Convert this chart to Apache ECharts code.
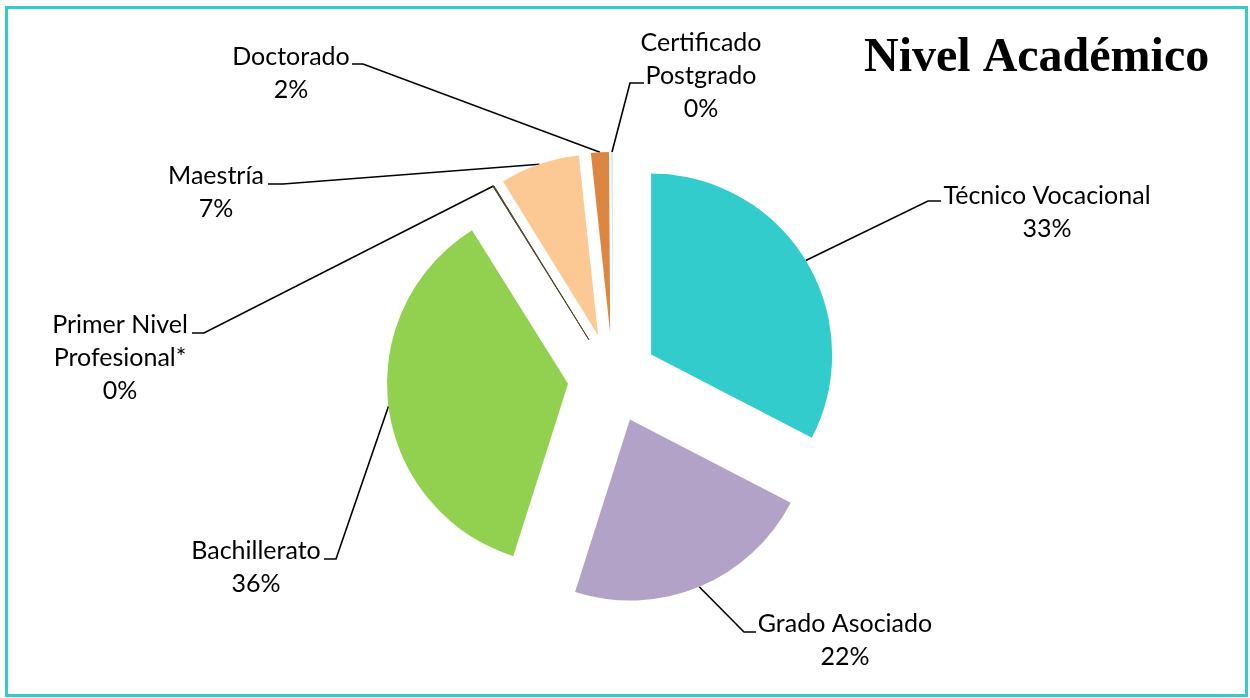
<!DOCTYPE html>
<html><head><meta charset="utf-8">
<script src="https://cdn.jsdelivr.net/npm/echarts@6/dist/echarts.min.js"></script>
<style>html,body{margin:0;padding:0;background:#fff}#c{width:1250px;height:698px}</style>
</head><body><div id="c"></div>
<script>
// ---- data ----
const categories = ['Técnico Vocacional','Grado Asociado','Bachillerato','Primer Nivel Profesional*','Maestría','Doctorado','Certificado Postgrado'];
const labelNames = ['Técnico Vocacional','Grado Asociado','Bachillerato','Primer Nivel\nProfesional*','Maestría','Doctorado','Certificado\nPostgrado'];
const values = [32.6, 22.3, 36.2, 0.1, 7.1, 1.6, 0.1];
const colors = ['#33CCCC','#B3A2C7','#92D050','#4A452A','#FCC994','#DD8642','#C6D4EA'];
const titleText = 'Nivel Académico';

// ---- layout ----
const CX = 612.7, CY = 378, R = 181, OFFSET = 45;
const labelPos = [[1047,212.5],[845,640],[256,567.5],[120,358],[216,192],[291,73],[701,75.5]];
const lineEnds = [
  [[928,201],[941,201]],
  [[744,632],[756,632]],
  [[336,559],[324,559]],
  [[204,333],[192,333]],
  [[283,184],[268,184]],
  [[363,64],[352,64]],
  [[630,83],[644,83]]
];

const total = values.reduce((a,b)=>a+b,0);
let acc = 0;
const mids = values.map(v => { const m = (acc + v/2) / total * 2 * Math.PI; acc += v; return m; });
function arcMid(i){ const d = OFFSET + R; return [CX + d*Math.sin(mids[i]), CY - d*Math.cos(mids[i])]; }

const chart = echarts.init(document.getElementById('c'), null, {renderer:'canvas'});
chart.setOption({
  animation: false,
  backgroundColor: '#fff',
  title: {
    text: titleText, left: 864, top: 35, padding: 0,
    textStyle: {fontFamily: 'Liberation Serif', fontWeight: 'bold', fontSize: 48, color: '#000'}
  },
  graphic: [{
    type: 'rect', silent: true,
    shape: {x: 6.5, y: 7.5, width: 1240, height: 688},
    style: {fill: 'none', stroke: '#33CCCC', lineWidth: 3}
  }],
  series: [{
    // visible exploded slices
    type: 'pie',
    center: [CX, CY],
    radius: [0, R],
    startAngle: 90,
    clockwise: true,
    selectedMode: 'multiple',
    selectedOffset: OFFSET,
    emphasis: {disabled: true},
    data: categories.map((n, i) => ({
      name: n, value: values[i], selected: true,
      itemStyle: {color: colors[i], borderColor: colors[i], borderWidth: i === 3 ? 1 : 0}
    })),
    label: {show: false},
    labelLine: {show: false}
  }, {
    // label carrier (same data, transparent slices)
    type: 'pie',
    silent: true,
    center: [CX, CY],
    radius: [0, R],
    startAngle: 90,
    clockwise: true,
    selectedMode: false,
    avoidLabelOverlap: false,
    emphasis: {disabled: true},
    itemStyle: {color: 'rgba(0,0,0,0)', borderWidth: 0},
    data: categories.map((n, i) => ({name: n, value: values[i]})),
    label: {
      show: true,
      formatter: p => labelNames[p.dataIndex] + '\n' + Math.round(p.percent) + '%',
      fontFamily: 'Lato', fontSize: 25, lineHeight: 33, color: '#000', align: 'center'
    },
    labelLine: {show: true, lineStyle: {color: '#000', width: 1.6}},
    labelLayout: p => {
      const i = p.dataIndex;
      return {
        x: labelPos[i][0], y: labelPos[i][1], align: 'center', verticalAlign: 'middle',
        labelLinePoints: [arcMid(i), lineEnds[i][0], lineEnds[i][1]]
      };
    }
  }]
});
</script>
</body></html>
